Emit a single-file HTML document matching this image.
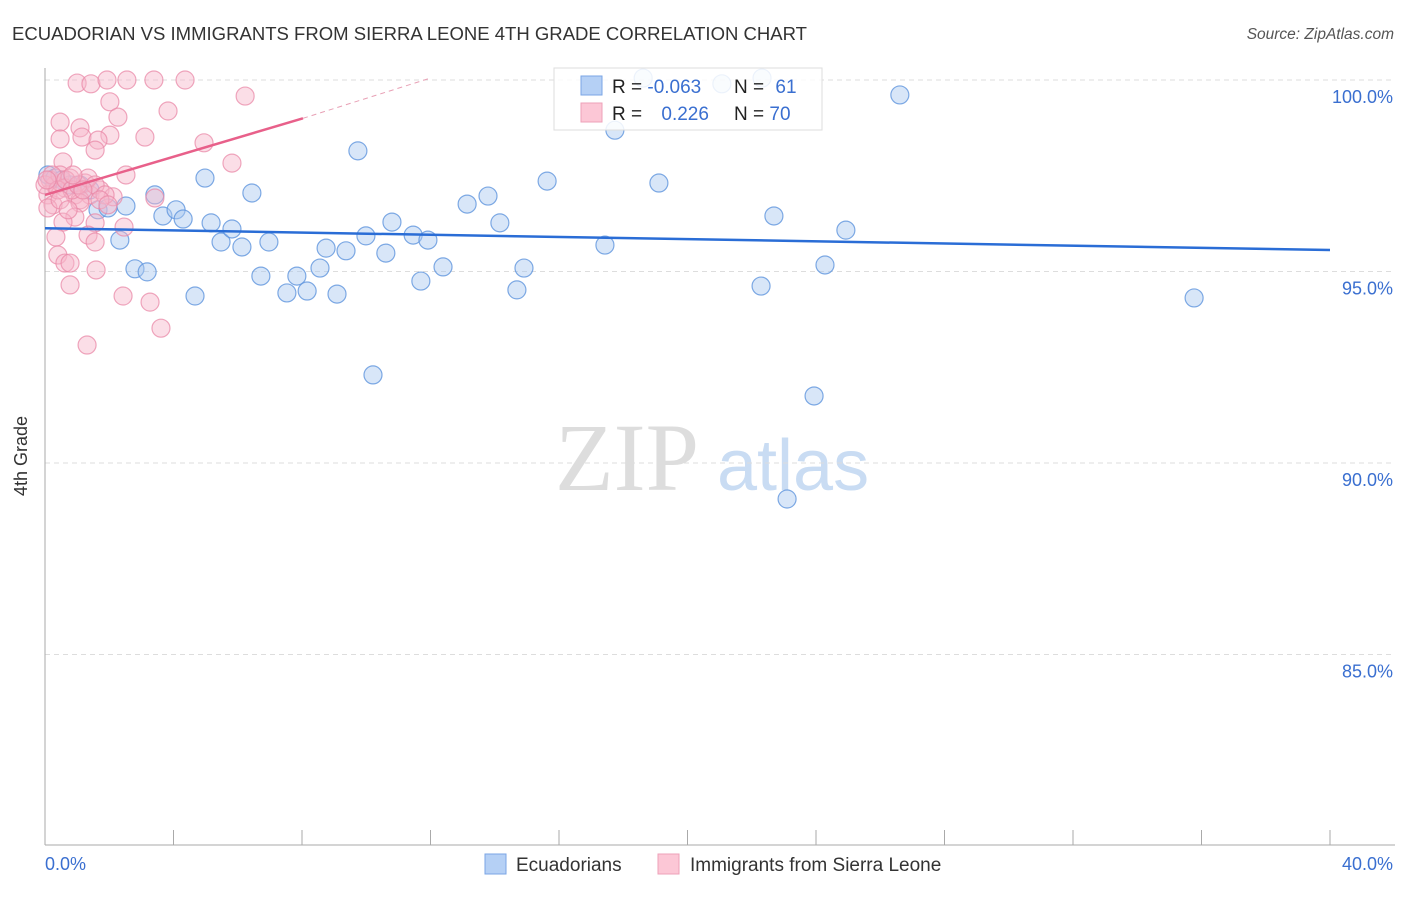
<!DOCTYPE html>
<html><head><meta charset="utf-8"><style>
body{margin:0;background:#fff;font-family:"Liberation Sans",sans-serif}
</style></head><body>
<svg width="1406" height="892" xmlns="http://www.w3.org/2000/svg">
<text x="12" y="40" font-size="18.5" fill="#333" textLength="795" lengthAdjust="spacingAndGlyphs">ECUADORIAN VS IMMIGRANTS FROM SIERRA LEONE 4TH GRADE CORRELATION CHART</text>
<text x="1394" y="39" font-size="15.5" fill="#555" font-style="italic" text-anchor="end">Source: ZipAtlas.com</text>
<text x="555" y="490" font-size="96" fill="#ddd" font-family="Liberation Serif,serif">ZIP</text>
<text x="717" y="490" font-size="72" fill="#c9dcf3">atlas</text>
<g id="grid"></g>
<line x1="45" y1="68" x2="45" y2="845" stroke="#aaa"/>
<line x1="45" y1="845" x2="1395" y2="845" stroke="#aaa"/>
<text x="27" y="456" font-size="18" fill="#333" transform="rotate(-90 27 456)" text-anchor="middle">4th Grade</text>
<text x="45" y="870" font-size="18" fill="#3a6fd0">0.0%</text>
<text x="1393" y="870" font-size="18" fill="#3a6fd0" text-anchor="end">40.0%</text>
<g id="pts"></g>
<g id="lines"></g>
<g>
<rect x="554" y="68" width="268" height="62" fill="#fff" fill-opacity="0.85" stroke="#ddd"/>
<rect x="581" y="76" width="21" height="19" fill="#b5d0f5" stroke="#7aa5e5"/>
<rect x="581" y="103" width="21" height="19" fill="#fcc7d6" stroke="#eea0b8"/>
<text x="612" y="93" font-size="19" fill="#222">R = <tspan fill="#3a6fd0">-0.063</tspan></text>
<text x="734" y="93" font-size="19" fill="#222">N = <tspan fill="#3a6fd0" dx="6">61</tspan></text>
<text x="612" y="120" font-size="19" fill="#222">R = <tspan fill="#3a6fd0" dx="14">0.226</tspan></text>
<text x="734" y="120" font-size="19" fill="#222">N = <tspan fill="#3a6fd0">70</tspan></text>
</g>
<g>
<rect x="485" y="854" width="21" height="20" fill="#b5d0f5" stroke="#7aa5e5"/>
<text x="516" y="871" font-size="19" fill="#333">Ecuadorians</text>
<rect x="658" y="854" width="21" height="20" fill="#fcc7d6" stroke="#eea0b8"/>
<text x="690" y="871" font-size="19" fill="#333">Immigrants from Sierra Leone</text>
</g>
</svg>
<script>
const yTicks=[100,95,90,85];
const xTicks=[0,4,8,12,16,20,24,28,32,36,40];
const blueX=[0.09,0.31,0.53,0.78,1.40,1.65,1.96,2.33,2.52,2.80,3.18,3.42,3.67,4.08,4.30,4.67,4.98,5.17,5.48,5.82,6.13,6.44,6.72,6.97,7.53,7.84,8.16,8.56,8.75,9.09,9.37,9.74,9.99,10.21,10.61,10.80,11.46,11.70,11.92,12.39,13.14,13.79,14.16,14.69,14.91,15.63,17.43,17.74,18.62,19.11,21.07,22.29,22.32,22.69,23.10,23.94,24.28,24.93,26.61,35.77,1.09];
const blueY=[97.52,97.44,97.39,97.26,97.13,96.61,96.66,95.82,96.71,95.07,94.99,97.00,96.45,96.61,96.37,94.36,97.44,96.27,95.77,96.11,95.64,97.05,94.88,95.77,94.44,94.88,94.49,95.09,95.61,94.41,95.54,98.15,95.93,92.30,95.48,96.29,95.95,94.75,95.82,95.12,96.76,96.97,96.27,94.52,95.09,97.36,95.69,98.69,100.05,97.31,99.90,94.62,100.05,96.45,89.06,91.75,95.17,96.08,99.61,94.31,97.26];
const pinkX=[1.00,1.43,1.93,2.55,3.39,4.36,6.23,2.02,2.27,3.83,0.47,1.09,1.15,0.47,2.02,1.65,1.56,3.11,4.95,5.82,0.56,2.52,0.16,0.31,0.47,0.78,0.93,0.09,0.25,0.62,1.25,1.40,1.09,1.71,2.12,3.42,1.09,0.09,0.93,0.56,1.56,2.46,0.34,1.34,1.56,0.40,0.62,0.78,1.59,0.78,2.43,3.27,3.61,1.31,0,0.22,0.40,0.65,0.84,1.03,1.34,1.56,1.87,0.47,0.72,1.71,1.96,0.06,0.87,1.18];
const pinkY=[99.92,99.90,100,100,100,100,99.58,99.43,99.03,99.19,98.90,98.75,98.51,98.46,98.56,98.43,98.17,98.51,98.36,97.83,97.86,97.52,97.39,97.26,97.52,97.44,97.00,97.00,96.74,97.18,97.31,97.00,96.87,97.13,96.95,96.92,96.79,96.66,96.42,96.29,96.27,96.16,95.90,95.95,95.77,95.43,95.22,95.22,95.04,94.65,94.36,94.20,93.52,93.08,97.26,97.52,97.13,97.39,97.13,97.26,97.44,97.26,97.00,96.87,96.61,96.87,96.74,97.39,97.52,97.13];
const blueTrend=[[0,96.13],[40,95.56]];
const pinkTrend=[[0,97.0],[8.03,99.0]];
const pinkDash=[[8.03,99.0],[12,100.05]];
const X=v=>45+v/40*1285, Y=v=>80+(100-v)*38.3;
const NS="http://www.w3.org/2000/svg";
function mk(t,a,p){const e=document.createElementNS(NS,t);for(const k in a)e.setAttribute(k,a[k]);p.appendChild(e);return e;}
const g=document.getElementById('grid');
yTicks.forEach(v=>{const l=mk('line',{x1:45,x2:1395,y1:Y(v),y2:Y(v),stroke:'#ddd','stroke-dasharray':'5,4'},g);


const t=mk('text',{x:1393,y:Y(v)+23,'font-size':18,fill:'#3a6fd0','text-anchor':'end'},g);t.textContent=v.toFixed(1)+'%';

});
xTicks.forEach(v=>{const l=mk('line',{x1:X(v),x2:X(v),y1:830,y2:845,stroke:'#aaa'},g);

});
const p=document.getElementById('pts');
blueX.forEach((v,i)=>{const c=mk('circle',{cx:X(v),cy:Y(blueY[i]),r:9,fill:'#a8c8f0','fill-opacity':0.45,stroke:'#5f95dd','stroke-opacity':0.8,'stroke-width':1.2},p);

});
pinkX.forEach((v,i)=>{const c=mk('circle',{cx:X(v),cy:Y(pinkY[i]),r:9,fill:'#f7b6c9','fill-opacity':0.45,stroke:'#ea8aa8','stroke-opacity':0.75,'stroke-width':1.2},p);

});
const L=document.getElementById('lines');
const b=mk('line',{x1:X(blueTrend[0][0]),y1:Y(blueTrend[0][1]),x2:X(blueTrend[1][0]),y2:Y(blueTrend[1][1]),stroke:'#2a6dd6','stroke-width':2.5},L);


const pk=mk('line',{x1:X(pinkTrend[0][0]),y1:Y(pinkTrend[0][1]),x2:X(pinkTrend[1][0]),y2:Y(pinkTrend[1][1]),stroke:'#e8608a','stroke-width':2.5},L);


const pd=mk('line',{x1:X(pinkDash[0][0]),y1:Y(pinkDash[0][1]),x2:X(pinkDash[1][0]),y2:Y(pinkDash[1][1]),stroke:'#e8a0b5','stroke-width':1,'stroke-dasharray':'5,4'},L);


</script>
</body></html>
